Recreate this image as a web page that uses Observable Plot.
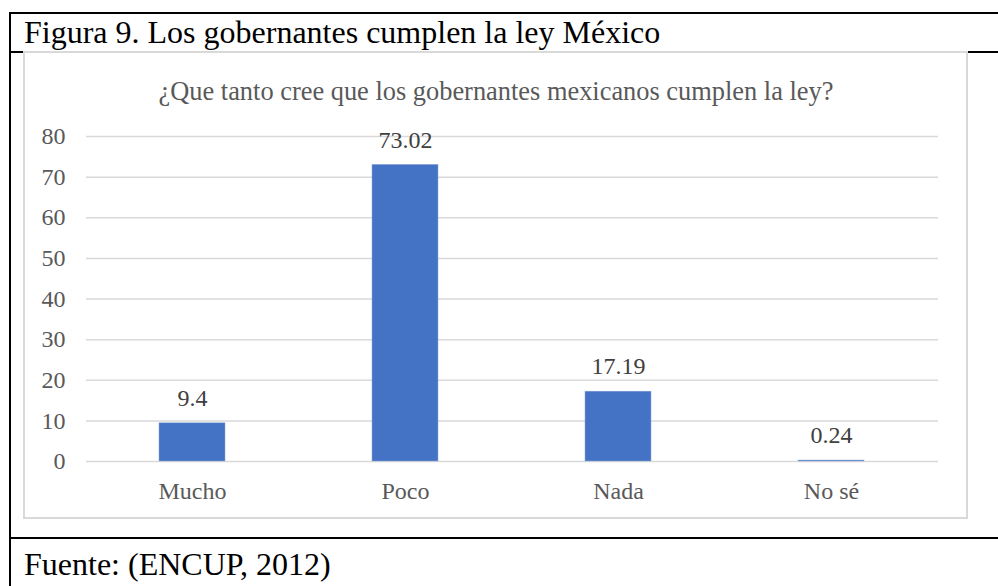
<!DOCTYPE html>
<html><head><meta charset="utf-8">
<script src="https://cdn.jsdelivr.net/npm/d3@7"></script>
<script src="https://cdn.jsdelivr.net/npm/@observablehq/plot@0.6"></script>
<style>
html,body{margin:0;padding:0;background:#fff;width:998px;height:586px;overflow:hidden;position:relative;font-family:"Liberation Serif","Times New Roman",serif;}
.abs{position:absolute;}
.blk{position:absolute;background:#000;}
#title{left:24px;top:16px;font-size:32px;color:#000;white-space:nowrap;line-height:32px;}
#foot{left:24px;top:548px;font-size:32px;color:#000;white-space:nowrap;line-height:32px;}
#box{left:23px;top:51px;width:941px;height:464px;border:2px solid #d9d9d9;}
#sub{left:24px;width:944px;top:78px;text-align:center;font-size:26.4px;color:#595959;white-space:nowrap;line-height:26px;}
#chart{left:24px;top:52px;}
</style></head>
<body>
<div class="blk" style="left:9px;top:12px;width:989px;height:2px"></div>
<div class="blk" style="left:9px;top:12px;width:2px;height:574px"></div>
<div class="blk" style="left:9px;top:51px;width:15px;height:2px"></div>
<div class="blk" style="left:967px;top:51px;width:31px;height:2px"></div>
<div class="blk" style="left:9px;top:537px;width:989px;height:2px"></div>
<div class="abs" id="title">Figura 9. Los gobernantes cumplen la ley México</div>
<div class="abs" id="box"></div>
<div class="abs" id="sub">¿Que tanto cree que los gobernantes mexicanos cumplen la ley?</div>
<div class="abs" id="chart"></div>
<div class="abs" id="foot">Fuente: (ENCUP, 2012)</div>
<script>
const categories = ["Mucho", "Poco", "Nada", "No sé"];
const values = [9.4, 73.02, 17.19, 0.24];
const labels = ["9.4", "73.02", "17.19", "0.24"];
const yTicks = [0, 10, 20, 30, 40, 50, 60, 70, 80];
const data = categories.map((c, i) => ({cat: c, val: values[i], label: labels[i]}));

const chart = Plot.plot({
  width: 944,
  height: 467,
  marginLeft: 62,
  marginRight: 30,
  marginTop: 84,
  marginBottom: 58,
  style: {fontFamily: "'Liberation Serif','Times New Roman',serif", fontSize: "24px", background: "transparent", overflow: "visible"},
  x: {domain: categories, paddingInner: 0.69, paddingOuter: 0.345, label: null, tickSize: 0, tickPadding: 20},
  y: {domain: [0, 80], ticks: yTicks, label: null, tickSize: 0, tickPadding: 21},
  marks: [
    Plot.ruleY(yTicks, {stroke: "#d9d9d9", strokeWidth: 1.5}),
    Plot.barY(data, {x: "cat", y: "val", fill: "#4472C4", stroke: "#8faadc", strokeWidth: 0.5}),
    Plot.text(data, {x: "cat", y: "val", text: "label", dy: -25, fill: "#404040", fontSize: 24}),
    Plot.axisY({ticks: yTicks, tickSize: 0, tickPadding: 21, color: "#595959", fontSize: 24}),
    Plot.axisX({tickSize: 0, tickPadding: 20, color: "#595959", fontSize: 24})
  ]
});
document.getElementById("chart").appendChild(chart);
</script>
</body></html>
